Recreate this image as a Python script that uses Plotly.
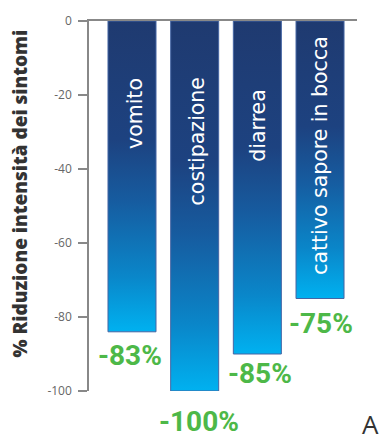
import plotly.graph_objects as go

# data
categories = ["vomito", "costipazione", "diarrea", "cattivo sapore in bocca"]
values = [-84, -100, -90, -75]
value_labels = ["-83%", "-100%", "-85%", "-75%"]
y_ticks = [0, -20, -40, -60, -80, -100]

# styles / positions
name_top = [-15.0, -14.8, -17.8, -3.6]      # where rotated category names start
name_dx = [3, 2, 1, 0]
pct_shift = [-24, -30, -19, -25]
pct_dx = [-2, 4, 3, 1]
half_w = 0.383
grad = [[0.0, "#00b1f0"], [0.18, "#0a86c9"], [0.42, "#165ca0"],
        [0.62, "#1d4280"], [1.0, "#1f3a70"]]

fig = go.Figure()
for i, v in enumerate(values):
    fig.add_trace(go.Scatter(
        x=[i - half_w, i + half_w, i + half_w, i - half_w, i - half_w],
        y=[0, 0, v, v, 0],
        mode="lines", fill="toself",
        fillgradient=dict(type="vertical", colorscale=grad),
        line=dict(color="#4565a3", width=1),
        hoverinfo="skip", showlegend=False,
    ))

for i, (c, v) in enumerate(zip(categories, values)):
    fig.add_annotation(x=i, y=name_top[i], xref="x", yref="y", text=c,
                       textangle=-90, showarrow=False, xanchor="center", yanchor="top",
                       xshift=name_dx[i],
                       font=dict(family="DejaVu Sans", size=20.5, color="white"))
    fig.add_annotation(x=i, y=v, xref="x", yref="y", text=value_labels[i],
                       showarrow=False, xanchor="center", yanchor="middle",
                       yshift=pct_shift[i], xshift=pct_dx[i],
                       font=dict(family="Roboto", size=28, color="#4db848", weight="bold"))

fig.add_annotation(x=-0.256, y=0.535, xref="paper", yref="paper",
                   text="% Riduzione intensità dei sintomi", textangle=-90,
                   showarrow=False, xanchor="center", yanchor="middle",
                   font=dict(family="Open Sans", size=19, color="#333333", weight=800))
fig.add_annotation(x=1.05, y=-0.09, xref="paper", yref="paper", text="A",
                   showarrow=False, xanchor="center", yanchor="middle",
                   font=dict(family="Open Sans", size=26, color="#333333"))

fig.update_layout(
    width=382, height=441,
    margin=dict(l=89, r=25, t=21, b=50),
    paper_bgcolor="white", plot_bgcolor="white",
    xaxis=dict(range=[-0.686, 3.59], side="top", showline=True, linecolor="#888888",
               linewidth=1.5, showticklabels=False, ticks="", showgrid=False, zeroline=False,
               fixedrange=True),
    yaxis=dict(range=[-100, 0], tickvals=y_ticks, ticktext=[str(t) for t in y_ticks],
               showline=True, linecolor="#888888", linewidth=1.5, ticks="outside",
               ticklen=9, tickcolor="#888888", tickwidth=1.5, showgrid=False, zeroline=False,
               tickfont=dict(family="Open Sans", size=12, color="#666666"), ticklabelstandoff=4),
)

fig.write_html("out.html")
